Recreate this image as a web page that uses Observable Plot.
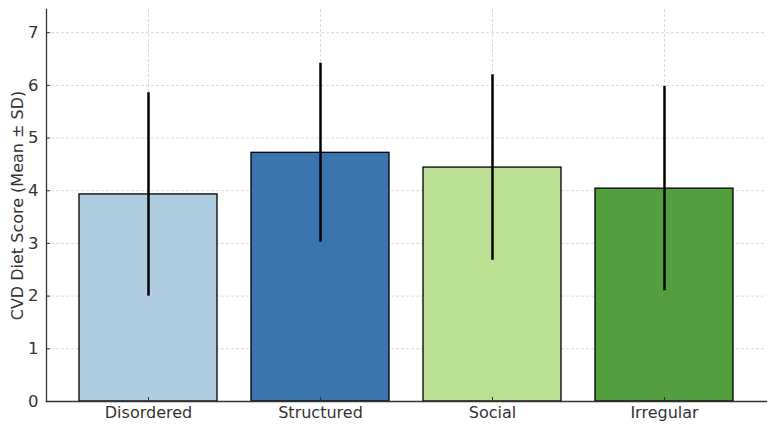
<!DOCTYPE html>
<html>
<head>
<meta charset="utf-8">
<script src="https://cdn.jsdelivr.net/npm/d3@7"></script>
<script src="https://cdn.jsdelivr.net/npm/@observablehq/plot@0.6"></script>
<style>
  html, body { margin: 0; padding: 0; background: #fff; }
  #chart svg { display: block; }
</style>
</head>
<body>
<div id="chart"></div>
<script>
// Mean CVD diet score by eating pattern, with ±1 SD
const groups = ["Disordered", "Structured", "Social", "Irregular"];
const means = [3.93, 4.72, 4.44, 4.04];
const sds = [1.93, 1.70, 1.76, 1.94];
const barColors = ["#aecde1", "#3a75af", "#bbdf93", "#559e3f"];
const yTicks = [0, 1, 2, 3, 4, 5, 6, 7];

const rows = groups.map((g, i) => ({
  group: g,
  mean: means[i],
  lo: means[i] - sds[i],
  hi: means[i] + sds[i]
}));

const textColor = "#333";
const font = "DejaVu Sans, sans-serif";

const chart = Plot.plot({
  width: 774,
  height: 428,
  marginLeft: 46,
  marginRight: 8,
  marginTop: 9,
  marginBottom: 27,
  style: { fontFamily: font, fontSize: "16px", color: textColor, background: "#fff" },
  x: { domain: groups, paddingInner: 0.2, paddingOuter: 0.193 },
  y: { domain: [0, 7.44] },
  color: { domain: groups, range: barColors },
  marks: [
    Plot.gridY(yTicks, { stroke: "#b0b0b0", strokeOpacity: 0.6, strokeDasharray: "3,2", strokeWidth: 0.8 }),
    Plot.gridX(groups, { stroke: "#b0b0b0", strokeOpacity: 0.6, strokeDasharray: "3,2", strokeWidth: 0.8 }),
    Plot.barY(rows, {
      x: "group", y: "mean", fill: "group",
      stroke: "#000", strokeWidth: 1.3
    }),
    Plot.ruleX(rows, { x: "group", y1: "lo", y2: "hi", stroke: "#000", strokeWidth: 2.5 }),
    Plot.axisY(yTicks, {
      tickSize: -4, tickPadding: 12, tickFormat: "d", stroke: textColor, strokeWidth: 1,
      fontSize: 16.5, fill: textColor, label: null
    }),
    Plot.axisX(groups, {
      tickSize: -4, tickPadding: 9, stroke: textColor, strokeWidth: 1,
      fontSize: 16, fill: textColor, label: null
    }),
    Plot.frame({ anchor: "left", stroke: textColor, strokeWidth: 1.3 }),
    Plot.frame({ anchor: "bottom", stroke: textColor, strokeWidth: 1.3 }),
    Plot.text(["CVD Diet Score (Mean ± SD)"], {
      frameAnchor: "left", textAnchor: "middle", dx: -29, rotate: -90,
      fontSize: 16, fill: textColor
    })
  ]
});

document.getElementById("chart").appendChild(chart);
</script>
</body>
</html>
